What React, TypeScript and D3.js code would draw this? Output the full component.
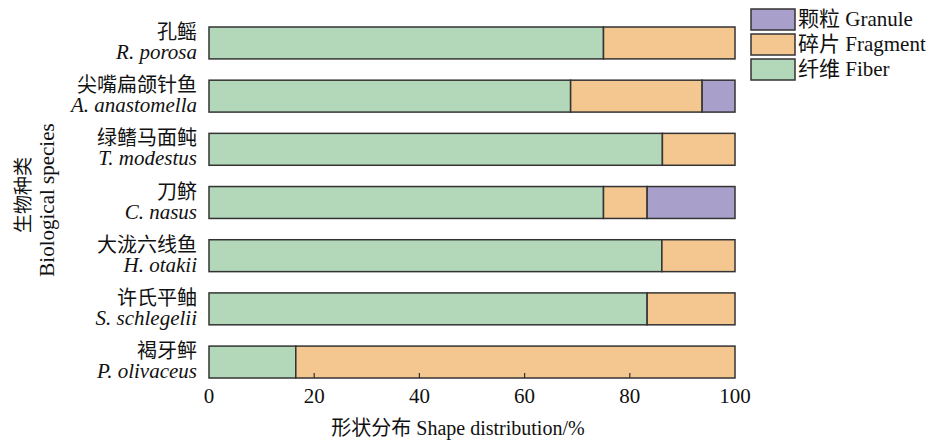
import React from 'react';
import * as d3 from 'd3';

// Stacked horizontal bars: microplastic shape distribution by species.

const SPECIES_CN = ['孔鳐', '尖嘴扁颌针鱼', '绿鳍马面鲀', '刀鲚', '大泷六线鱼', '许氏平鲉', '褐牙鲆'];
const SPECIES_LATIN = ['R. porosa', 'A. anastomella', 'T. modestus', 'C. nasus', 'H. otakii', 'S. schlegelii', 'P. olivaceus'];
const FIBER = [75, 68.75, 86.2, 75, 86.1, 83.3, 16.5];
const FRAGMENT = [25, 25, 13.8, 8.3, 13.9, 16.7, 83.5];
const GRANULE = [0, 6.25, 0, 16.7, 0, 0, 0];
const X_TICKS = [0, 20, 40, 60, 80, 100];

const KEYS = ['fiber', 'fragment', 'granule'];
const COLORS: Record<string, string> = {
  fiber: '#b2d8b9',
  fragment: '#f4c791',
  granule: '#a99fcb',
};
const LEGEND = [
  { key: 'granule', label: '颗粒 Granule' },
  { key: 'fragment', label: '碎片 Fragment' },
  { key: 'fiber', label: '纤维 Fiber' },
];

const W = 933;
const H = 441;
const FONT = '"Times New Roman", "Liberation Serif", "Noto Sans CJK SC", serif';

export default function App() {
  const rows = SPECIES_LATIN.map((s, i) => ({
    id: s,
    fiber: FIBER[i],
    fragment: FRAGMENT[i],
    granule: GRANULE[i],
  }));
  const series = d3.stack<any>().keys(KEYS)(rows);

  const x = d3.scaleLinear().domain([0, 100]).range([209, 735]);
  const y = d3.scaleBand<string>().domain(SPECIES_LATIN).range([27, 378]).paddingInner(0.4).paddingOuter(0);
  const bottom = 378;

  return (
    <svg
      width={W}
      height={H}
      style={{ display: 'block', position: 'absolute', left: 0, top: 0, fontFamily: FONT }}
    >
      <rect width={W} height={H} fill="#fff" />

      {/* bars */}
      {series.map((s) =>
        s.map((d, i) => {
          const w = x(d[1]) - x(d[0]);
          if (w <= 0) return null;
          return (
            <rect
              key={`${s.key}-${i}`}
              x={x(d[0])}
              y={y(SPECIES_LATIN[i])}
              width={w}
              height={y.bandwidth()}
              fill={COLORS[s.key]}
              stroke="#333"
              strokeWidth={1.5}
            />
          );
        }),
      )}

      {/* inner ticks on bottom edge */}
      {X_TICKS.slice(1, -1).map((t) => (
        <line key={`tk-${t}`} x1={x(t)} x2={x(t)} y1={bottom} y2={bottom - 5} stroke="#333" strokeWidth={1.2} />
      ))}
      {X_TICKS.map((t) => (
        <text key={`tl-${t}`} x={x(t)} y={403} textAnchor="middle" fontSize={21} fill="#111">
          {t}
        </text>
      ))}
      <text x={458} y={435} textAnchor="middle" fontSize={20} fill="#111">
        形状分布 Shape distribution/%
      </text>

      {/* species labels */}
      {SPECIES_LATIN.map((s, i) => {
        const cy = (y(s) ?? 0) + y.bandwidth() / 2;
        return (
          <g key={`lab-${s}`} fill="#111" textAnchor="end">
            <text x={197} y={cy - 4} fontSize={20}>{SPECIES_CN[i]}</text>
            <text x={197} y={cy + 16} fontSize={21} fontStyle="italic">{s}</text>
          </g>
        );
      })}

      {/* y axis title */}
      <g fill="#111" textAnchor="middle">
        <text transform="translate(30, 195) rotate(-90)" fontSize={19}>生物种类</text>
        <text transform="translate(54, 200) rotate(-90)" fontSize={21}>Biological species</text>
      </g>

      {/* legend */}
      {LEGEND.map((l, i) => (
        <g key={`lg-${l.key}`} transform={`translate(751, ${9 + i * 25})`}>
          <rect width={44} height={21} fill={COLORS[l.key]} stroke="#333" strokeWidth={1.5} />
          <text x={47} y={17} fontSize={21} fill="#111">{l.label}</text>
        </g>
      ))}
    </svg>
  );
}
